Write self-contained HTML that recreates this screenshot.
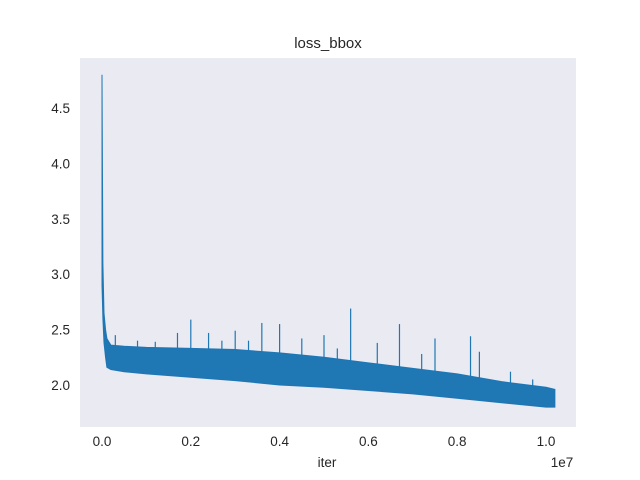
<!DOCTYPE html>
<html><head><meta charset="utf-8"><style>
body{margin:0;background:#fff;}
svg{display:block;font-family:"Liberation Sans","DejaVu Sans",sans-serif;}
</style></head><body>
<svg id="chart" width="640" height="480" viewBox="0 0 640 480">
<rect x="0" y="0" width="640" height="480" fill="#fff"/>
<rect x="80" y="58" width="496" height="369" fill="#EAEAF2"/>
<text x="328" y="48" font-size="15" text-anchor="middle" fill="#262626">loss_bbox</text>
<text x="327" y="467" font-size="13.5" text-anchor="middle" fill="#262626">iter</text>
<text x="562" y="467" font-size="13.5" text-anchor="middle" fill="#262626">1e7</text>
<g id="ticks"></g>
<g id="series"></g>
</svg>
<script>
const iters=[0,0.002,0.0045,0.008,0.011,0.02,0.05,0.1,0.2,0.3,0.4,0.5,0.6,0.7,0.8,0.9,1.0,1.02];
const lossLow=[2.9,2.6,2.38,2.25,2.16,2.14,2.12,2.1,2.07,2.04,2.0,1.98,1.95,1.92,1.88,1.84,1.8,1.8];
const lossHigh=[4.8,3.1,2.65,2.5,2.42,2.36,2.35,2.34,2.33,2.32,2.29,2.25,2.2,2.15,2.1,2.03,1.98,1.96];
const spikeIters=[0.03,0.08,0.12,0.17,0.2,0.24,0.27,0.3,0.33,0.36,0.4,0.45,0.5,0.53,0.56,0.62,0.67,0.72,0.75,0.83,0.85,0.92,0.97];
const spikeVals=[2.45,2.4,2.39,2.47,2.59,2.47,2.4,2.49,2.4,2.56,2.55,2.42,2.45,2.33,2.69,2.38,2.55,2.28,2.42,2.44,2.3,2.12,2.05];
const xTicks=[0,0.2,0.4,0.6,0.8,1.0];
const xTickLabels=["0.0","0.2","0.4","0.6","0.8","1.0"];
const yTicks=[2.0,2.5,3.0,3.5,4.0,4.5];
const yTickLabels=["2.0","2.5","3.0","3.5","4.0","4.5"];

const NS="http://www.w3.org/2000/svg";
const xs=v=>102+v*444;
const ys=v=>385-(v-2.0)*110.8;
const tg=document.getElementById('ticks');
const sg=document.getElementById('series');
function mk(tag,attrs,parent){const e=document.createElementNS(NS,tag);for(const k in attrs)e.setAttribute(k,attrs[k]);parent.appendChild(e);return e;}

xTicks.forEach((t,i)=>{
  const el=mk('text',{x:xs(t),y:446,'font-size':13.5,'text-anchor':'middle',fill:'#262626'},tg);
  el.textContent=xTickLabels[i];
  
  
});
yTicks.forEach((t,i)=>{
  const el=mk('text',{x:70,y:ys(t)+5,'font-size':13.5,'text-anchor':'end',fill:'#262626'},tg);
  el.textContent=yTickLabels[i];
  
  
});

let pts=[];
iters.forEach((v,i)=>pts.push(xs(v)+','+ys(lossHigh[i])));
for(let i=iters.length-1;i>=0;i--)pts.push(xs(iters[i])+','+ys(lossLow[i]));
const band=mk('polygon',{points:pts.join(' '),fill:'#1f77b4',stroke:'#1f77b4','stroke-width':1},sg);



spikeIters.forEach((v,i)=>{
  let j=0;while(j<iters.length-2&&iters[j+1]<v)j++;
  const f=(v-iters[j])/(iters[j+1]-iters[j]);
  const base=lossHigh[j]+(lossHigh[j+1]-lossHigh[j])*f;
  const ln=mk('line',{x1:xs(v),x2:xs(v),y1:ys(base),y2:ys(spikeVals[i]),stroke:'#1f77b4','stroke-width':1.2},sg);
  
  
});
</script>
</body></html>
